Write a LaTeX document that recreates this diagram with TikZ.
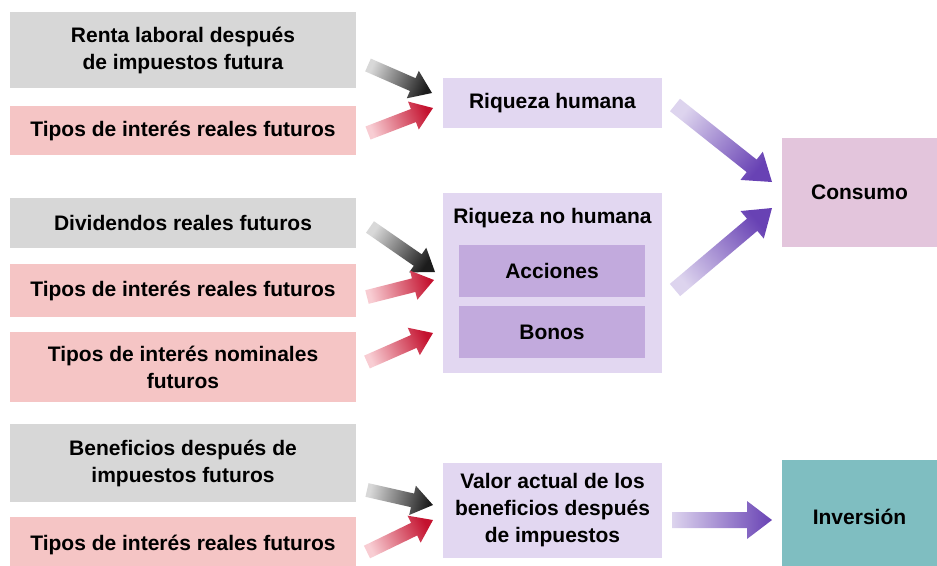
\documentclass[tikz,border=0pt]{standalone}
\usepackage{fontspec}
\setmainfont{Liberation Sans}
\usetikzlibrary{calc,positioning}

\definecolor{boxgray}{HTML}{D7D7D7}
\definecolor{boxpink}{HTML}{F5C5C5}
\definecolor{boxlav}{HTML}{E2D7F1}
\definecolor{boxlavdk}{HTML}{C2AADD}
\definecolor{boxcons}{HTML}{E3C5DC}
\definecolor{boxinv}{HTML}{7FBEC1}
\definecolor{arrgrayA}{HTML}{D8D8D8}
\definecolor{arrgrayB}{HTML}{1C1C1C}
\definecolor{arrredA}{HTML}{F8CDD3}
\definecolor{arrredB}{HTML}{C4122F}
\definecolor{arrpurA}{HTML}{DDD4EE}
\definecolor{arrpurB}{HTML}{6842B4}

% fat shaded arrow: tail, tip, tail colour, head colour, shaft, head width, head length
\newcommand{\fatarrow}[7]{%
  \pgfmathanglebetweenpoints{\pgfpointanchor{#1}{center}}{\pgfpointanchor{#2}{center}}%
  \pgfmathsetmacro{\shadang}{\pgfmathresult-90}%
  \coordinate (hb) at ($(#2)!#7!(#1)$);
  \shade[bottom color=#3, top color=#4, shading angle=\shadang]
    ($(#1)!#5!90:(#2)$) -- ($(hb)!#5!-90:(#1)$) -- ($(hb)!#6!-90:(#1)$) -- (#2)
    -- ($(hb)!#6!90:(#1)$) -- ($(hb)!#5!90:(#1)$) -- ($(#1)!#5!-90:(#2)$) -- cycle;
}

\begin{document}
\begin{tikzpicture}[x=1pt, y=-1pt,
    txt/.style={font=\fontsize{21}{27}\selectfont\bfseries, align=center, inner sep=0pt},
    src/.style={txt, minimum width=346pt},
    gbox/.style={src, fill=boxgray},
    pbox/.style={src, fill=boxpink},
    mid/.style={txt, minimum width=219pt, fill=boxlav},
    sub/.style={txt, minimum width=186pt, minimum height=52pt, fill=boxlavdk},
    res/.style={txt, minimum width=155pt}
]
    \useasboundingbox (0,0) rectangle (937,565);
    \clip (0,0) rectangle (937,565);

    % Sources
    \node[gbox, minimum height=76pt] (renta) at (183,50) {Renta laboral después\\de impuestos futura};
    \node[pbox, minimum height=49pt] (tiposa) at (183,130.5) {Tipos de interés reales futuros};
    \node[gbox, minimum height=50pt] (divid) at (183,223) {Dividendos reales futuros};
    \node[pbox, minimum height=53pt] (tiposb) at (183,290.5) {Tipos de interés reales futuros};
    \node[pbox, minimum height=70pt] (tiposn) at (183,367) {Tipos de interés nominales\\futuros};
    \node[gbox, minimum height=78pt] (benef) at (183,463) {Beneficios después de\\impuestos futuros};
    \node[pbox, minimum height=56pt] (tiposc) at (183,545) {Tipos de interés reales futuros};

    % Wealth and present value
    \node[mid, minimum height=50pt] (rhum) at (552.5,103) {Riqueza humana};
    \node[mid, minimum height=180pt] (rnohum) at (552.5,283) {};
    \node[txt] (rnotit) at (552.5,218) {Riqueza no humana};
    \node[sub] (acc) at (552,271) {Acciones};
    \node[sub] (bon) at (552,332) {Bonos};
    \node[mid, minimum height=95pt] (valor) at (552.5,510.5) {Valor actual de los\\beneficios después\\de impuestos};

    % Results
    \node[res, minimum height=109pt, fill=boxcons] (cons) at (859.5,192.5) {Consumo};
    \node[res, minimum height=114pt, fill=boxinv] (inv) at (859.5,517) {Inversión};

    % Arrow ends
    \coordinate (a1s) at (368,65);  \coordinate (a1e) at (432,93);
    \coordinate (a2s) at (368,133); \coordinate (a2e) at (433,108);
    \coordinate (a3s) at (370,227); \coordinate (a3e) at (435,272);
    \coordinate (a4s) at (367,297); \coordinate (a4e) at (434,280);
    \coordinate (a5s) at (367,362); \coordinate (a5e) at (433,333);
    \coordinate (a6s) at (367,490); \coordinate (a6e) at (433,505);
    \coordinate (a7s) at (367,552); \coordinate (a7e) at (433,520);
    \coordinate (a8s) at (675,105); \coordinate (a8e) at (772,182);
    \coordinate (a9s) at (675,290); \coordinate (a9e) at (772,208);
    \coordinate (a10s) at (672,520); \coordinate (a10e) at (772,520);

    \fatarrow{a1s}{a1e}{arrgrayA}{arrgrayB}{7pt}{15pt}{21pt}
    \fatarrow{a2s}{a2e}{arrredA}{arrredB}{7pt}{15pt}{21pt}
    \fatarrow{a3s}{a3e}{arrgrayA}{arrgrayB}{7pt}{15pt}{21pt}
    \fatarrow{a4s}{a4e}{arrredA}{arrredB}{7pt}{15pt}{21pt}
    \fatarrow{a5s}{a5e}{arrredA}{arrredB}{7pt}{15pt}{21pt}
    \fatarrow{a6s}{a6e}{arrgrayA}{arrgrayB}{7pt}{15pt}{21pt}
    \fatarrow{a7s}{a7e}{arrredA}{arrredB}{7pt}{15pt}{21pt}
    \fatarrow{a8s}{a8e}{arrpurA}{arrpurB}{8pt}{18pt}{26pt}
    \fatarrow{a9s}{a9e}{arrpurA}{arrpurB}{8pt}{18pt}{26pt}
    \fatarrow{a10s}{a10e}{arrpurA}{arrpurB}{8pt}{19pt}{25pt}
\end{tikzpicture}
\end{document}
